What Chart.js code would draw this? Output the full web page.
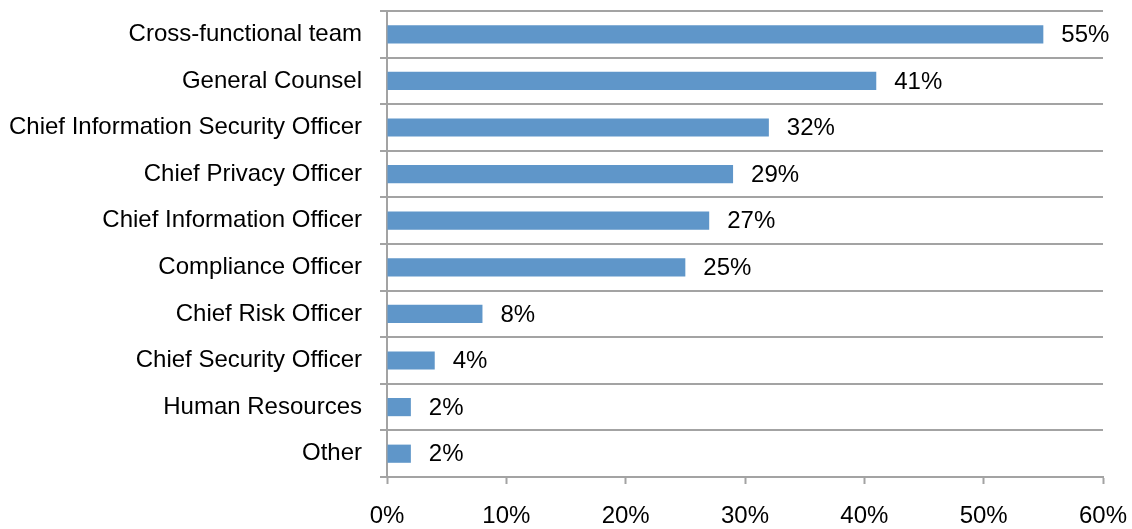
<!DOCTYPE html>
<html>
<head>
<meta charset="utf-8">
<script src="https://cdn.jsdelivr.net/npm/chart.js@4/dist/chart.umd.min.js"></script>
<style>
  html, body { margin: 0; padding: 0; background: #fff; }
  #wrap { width: 1132px; height: 529px; }
</style>
</head>
<body>
<div id="wrap"><canvas id="myChart" width="1132" height="529"></canvas></div>
<script>
const roles = [
  'Cross-functional team',
  'General Counsel',
  'Chief Information Security Officer',
  'Chief Privacy Officer',
  'Chief Information Officer',
  'Compliance Officer',
  'Chief Risk Officer',
  'Chief Security Officer',
  'Human Resources',
  'Other'
];
const shares = [55, 41, 32, 29, 27, 25, 8, 4, 2, 2];
const xTicks = [0, 10, 20, 30, 40, 50, 60];

const gridGray = '#a3a3a3';
const font = { family: "'Liberation Sans', Arial, sans-serif", size: 24 };

// writes "NN%" just past the end of each bar
const valueLabels = {
  id: 'valueLabels',
  afterDatasetsDraw(chart) {
    const ctx = chart.ctx;
    const meta = chart.getDatasetMeta(0);
    ctx.save();
    ctx.font = font.size + 'px ' + font.family;
    ctx.fillStyle = '#000';
    ctx.textAlign = 'left';
    ctx.textBaseline = 'middle';
    meta.data.forEach((bar, i) => {
      ctx.fillText(shares[i] + '%', bar.x + 18, bar.y + 1);
    });
    ctx.restore();
  }
};

new Chart(document.getElementById('myChart'), {
  type: 'bar',
  data: {
    labels: roles,
    datasets: [{
      data: shares,
      backgroundColor: '#5f96c9',
      borderWidth: 0,
      barPercentage: 0.39,
      categoryPercentage: 1
    }]
  },
  options: {
    indexAxis: 'y',
    responsive: false,
    animation: false,
    layout: { padding: { left: 10, right: 29, top: 11, bottom: 0 } },
    plugins: {
      legend: { display: false },
      tooltip: { enabled: false }
    },
    scales: {
      x: {
        min: 0,
        max: 60,
        afterBuildTicks: s => { s.ticks = xTicks.map(v => ({ value: v })); },
        afterFit: s => {
          s.height = 52;
          s.paddingLeft = 0;
          s.paddingRight = 0;
        },
        grid: {
          drawOnChartArea: false,
          drawTicks: true,
          tickLength: 7,
          tickWidth: 2,
          tickColor: gridGray
        },
        border: { color: gridGray, width: 2 },
        ticks: {
          color: '#000',
          font: font,
          padding: 18,
          callback: v => v + '%'
        }
      },
      y: {
        afterFit: s => {
          s.width = 377;
          s.paddingTop = 0;
          s.paddingBottom = 0;
        },
        grid: {
          offset: true,
          color: gridGray,
          lineWidth: 2,
          tickLength: 7
        },
        border: { color: gridGray, width: 2 },
        ticks: {
          color: '#000',
          font: font,
          padding: 18
        }
      }
    }
  },
  plugins: [valueLabels]
});
</script>
</body>
</html>
